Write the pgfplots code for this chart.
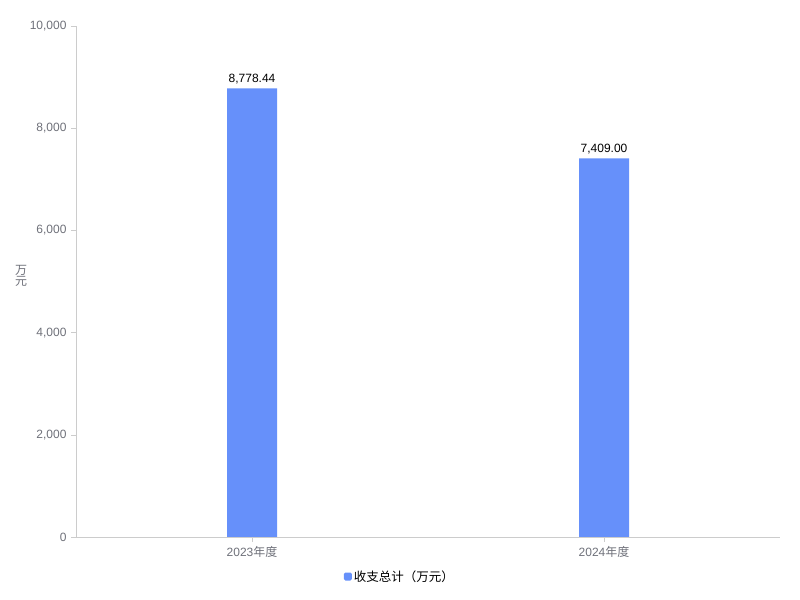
\documentclass[border=0pt]{standalone}
\usepackage{pgfplots}
\pgfplotsset{compat=1.18}
\usepackage{fontspec}
\setmainfont{Liberation Sans}
\newfontfamily\cjk{Noto Sans CJK SC}
\definecolor{barc}{HTML}{6690FA}
\definecolor{tickc}{HTML}{6E7079}
\definecolor{axc}{HTML}{CCCCCC}
\begin{document}
\begin{tikzpicture}[x=1bp,y=1bp]
\useasboundingbox (0,0) rectangle (800,600);
\begin{axis}[
  at={(76bp,63bp)}, anchor=south west,
  scale only axis, width=704bp, height=511bp,
  xmin=-0.5, xmax=1.5, ymin=0, ymax=10000,
  axis lines*=left,
  axis line style={draw=axc},
  xtick={0,1}, xticklabels={2023{\cjk 年度},2024{\cjk 年度}},
  ytick={0,2000,4000,6000,8000,10000},
  /pgf/number format/assume math mode=true,
  yticklabel style={/pgf/number format/1000 sep={,}},
  scaled y ticks=false,
  tick style={draw=axc, thin},
  major tick length=5bp,
  tick align=outside,
  ticklabel style={font=\fontsize{12bp}{14bp}\selectfont, text=tickc},
  xticklabel style={yshift=-1bp},
  yticklabel style={xshift=-1bp},
  ylabel={\cjk 万\\[-2.5bp]\cjk 元},
  ylabel style={at={(axis description cs:-0.078,0.5108)}, anchor=center, rotate=-90, align=center, font=\fontsize{12bp}{13bp}\selectfont, text=tickc},
  ybar, bar width=50bp,
  nodes near coords,
  nodes near coords style={font=\fontsize{12bp}{14bp}\selectfont, text=black, /pgf/number format/fixed, /pgf/number format/precision=2, /pgf/number format/fixed zerofill, /pgf/number format/1000 sep={,}, /pgf/number format/assume math mode=true, yshift=1bp},
  legend style={at={(axis description cs:0.460,-0.0775)}, anchor=center, draw=none, fill=none, font=\fontsize{12.5bp}{14bp}\selectfont, text=black, inner sep=0pt},
  legend image code/.code={\fill[barc, rounded corners=1.5bp] (0bp,-4bp) rectangle (8bp,4bp);},
]
\addplot[fill=barc, draw=none] coordinates {(0,8778.44) (1,7409.00)};
\addlegendentry{\cjk 收支总计（万元）}
\end{axis}
\end{tikzpicture}
\end{document}
